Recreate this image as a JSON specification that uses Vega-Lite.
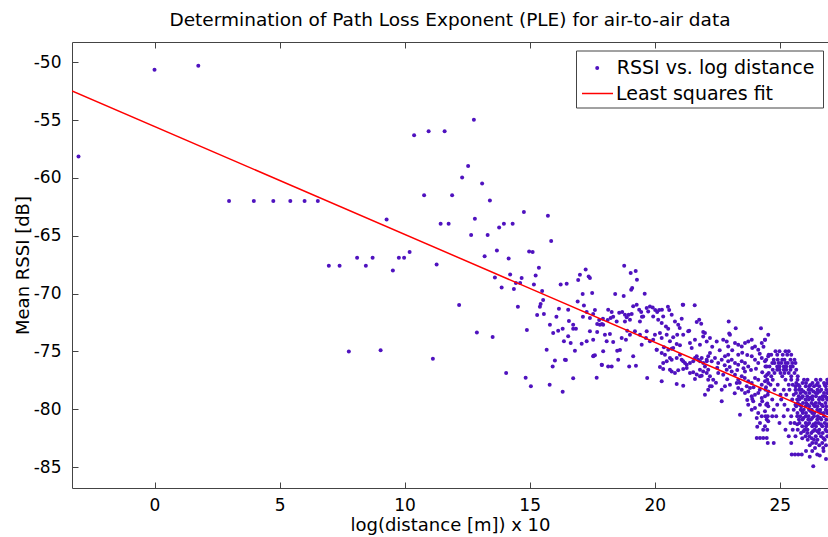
{
"$schema":"https://vega.github.io/schema/vega-lite/v6.json",
"width":756,"height":446,
"autosize":{"type":"none"},
"padding":{"left":72,"top":42,"right":0,"bottom":49},
"background":"white",
"config":{"view":{"stroke":null},"font":"DejaVu Sans"},
"title":{"text":"Determination of Path Loss Exponent (PLE) for air-to-air data","fontSize":18.5,"font":"DejaVu Sans","fontWeight":"normal","color":"#000","anchor":"middle","baseline":"alphabetic","offset":-3},
"datasets":{
"fit":[{"x":-3.3,"y":-52.48},{"x":26.93,"y":-80.66}],
"pts":[
{"x":-3.04,"y":-58.15},{"x":0.0,"y":-50.64},{"x":1.75,"y":-50.3},
{"x":2.98,"y":-62},{"x":3.97,"y":-62},{"x":4.75,"y":-62},{"x":5.43,"y":-62},{"x":6.0,"y":-62},{"x":6.53,"y":-62},
{"x":9.28,"y":-63.6},{"x":10.2,"y":-66.4},{"x":8.1,"y":-66.9},{"x":8.72,"y":-66.9},{"x":9.77,"y":-66.9},{"x":9.98,"y":-66.9},
{"x":10.38,"y":-56.3},{"x":6.97,"y":-67.6},{"x":7.4,"y":-67.6},{"x":8.45,"y":-67.6},{"x":9.53,"y":-68.0},
{"x":7.77,"y":-75.0},{"x":9.04,"y":-74.9},
{"x":10.96,"y":-55.96},{"x":11.6,"y":-55.96},{"x":12.77,"y":-54.96},{"x":12.54,"y":-58.96},{"x":12.3,"y":-59.96},{"x":13.1,"y":-60.48},{"x":10.78,"y":-61.49},{"x":11.9,"y":-61.49},{"x":13.41,"y":-61.95},{"x":14.77,"y":-62.95},{"x":15.73,"y":-63.27},{"x":12.81,"y":-63.53},{"x":11.44,"y":-63.96},{"x":11.76,"y":-63.96},{"x":13.78,"y":-64.28},{"x":13.97,"y":-63.96},{"x":14.32,"y":-63.96},
{"x":12.66,"y":-64.94},{"x":13.32,"y":-64.94},{"x":11.28,"y":-67.48},{"x":13.69,"y":-66.27},{"x":13.2,"y":-66.76},{"x":14.16,"y":-66.96},{"x":14.98,"y":-66.35},{"x":15.12,"y":-66.41},{"x":15.37,"y":-67.76},{"x":15.24,"y":-68.43},{"x":13.61,"y":-68.6},{"x":14.22,"y":-68.34},{"x":14.68,"y":-68.65},{"x":14.45,"y":-69.08},{"x":14.62,"y":-69.08},{"x":13.88,"y":-69.46},{"x":14.37,"y":-69.6},{"x":15.17,"y":-69.2},{"x":15.5,"y":-69.78},{"x":15.54,"y":-70.55},{"x":12.18,"y":-70.98},{"x":14.53,"y":-71.13},{"x":15.41,"y":-71.13},{"x":15.3,"y":-71.85},{"x":15.57,"y":-71.76},{"x":12.89,"y":-73.35},{"x":13.52,"y":-73.75},{"x":14.89,"y":-73.14},{"x":11.13,"y":-75.62},
{"x":14.06,"y":-76.86},{"x":14.84,"y":-77.26},{"x":15.05,"y":-78.01},{"x":15.8,"y":-77.87},{"x":16.32,"y":-78.47},{"x":15.92,"y":-76.29},{"x":16.01,"y":-75.79},{"x":16.45,"y":-75.73},{"x":16.74,"y":-77.32},{"x":17.56,"y":-75.36},{"x":17.89,"y":-76.17},{"x":17.68,"y":-77.26},
{"x":15.86,"y":-65.46},{"x":17.24,"y":-67.91},{"x":17.01,"y":-68.37},{"x":17.36,"y":-68.51},{"x":17.41,"y":-68.65},{"x":18.78,"y":-67.59},{"x":19.04,"y":-68.22},{"x":19.24,"y":-68.05},{"x":19.29,"y":-68.8},{"x":16.24,"y":-69.2},{"x":16.48,"y":-69.15},{"x":16.94,"y":-68.82},{"x":19.1,"y":-69.52},{"x":19.06,"y":-69.66},{"x":17.12,"y":-70.03},{"x":17.5,"y":-69.95},{"x":18.42,"y":-70.03},{"x":18.76,"y":-70.21},{"x":19.6,"y":-70.01},{"x":16.92,"y":-70.67},{"x":17.17,"y":-71.02},{"x":15.44,"y":-70.9},{"x":16.17,"y":-71.3},{"x":17.61,"y":-71.42},{"x":17.13,"y":-72.0},{"x":16.07,"y":-72.0},{"x":16.57,"y":-72.37},{"x":17.78,"y":-72.28},{"x":17.93,"y":-72.17},{"x":18.12,"y":-72.28},{"x":18.24,"y":-72.11},{"x":18.34,"y":-72.0},{"x":18.58,"y":-71.65},{"x":18.7,"y":-71.59},{"x":18.81,"y":-71.82},{"x":18.88,"y":-72.05},{"x":18.96,"y":-71.82},{"x":19.01,"y":-72.25},{"x":19.14,"y":-71.1},{"x":19.28,"y":-70.96},{"x":19.38,"y":-71.39},{"x":19.46,"y":-71.59},{"x":19.49,"y":-72.0},{"x":19.68,"y":-71.24},{"x":19.74,"y":-71.54},{"x":19.81,"y":-71.11},{"x":19.92,"y":-71.19},{"x":20.02,"y":-71.42},{"x":20.1,"y":-71.59},{"x":20.18,"y":-71.42},{"x":20.29,"y":-71.39},{"x":20.53,"y":-71.13},{"x":20.58,"y":-71.42},{"x":21.12,"y":-70.96},{"x":17.7,"y":-72.63},{"x":17.81,"y":-72.69},{"x":17.89,"y":-72.63},
{"x":15.94,"y":-73.4},{"x":16.14,"y":-73.2},{"x":16.32,"y":-73.03},{"x":16.37,"y":-74.12},{"x":16.54,"y":-73.69},{"x":16.64,"y":-74.27},{"x":16.74,"y":-73.03},{"x":16.85,"y":-73.03},{"x":16.81,"y":-74.93},{"x":17.08,"y":-74.33},{"x":17.28,"y":-74.12},{"x":17.41,"y":-73.26},{"x":17.54,"y":-73.98},{"x":17.61,"y":-75.33},{"x":17.7,"y":-73.32},{"x":17.94,"y":-74.99},{"x":18.01,"y":-73.55},{"x":18.08,"y":-74.12},{"x":18.21,"y":-73.49},{"x":18.34,"y":-74.18},{"x":18.5,"y":-74.93},{"x":18.61,"y":-74.87},{"x":18.68,"y":-73.84},{"x":18.85,"y":-73.98},{"x":18.9,"y":-73.2},{"x":19.01,"y":-73.55},{"x":19.14,"y":-75.42},{"x":19.21,"y":-73.26},{"x":19.41,"y":-73.55},{"x":19.48,"y":-74.41},{"x":19.65,"y":-73.84},{"x":19.68,"y":-73.26},{"x":19.81,"y":-74.12},{"x":19.94,"y":-73.98},{"x":20.01,"y":-73.55},{"x":20.08,"y":-74.84},{"x":20.21,"y":-73.4},{"x":20.28,"y":-73.84},{"x":20.37,"y":-74.64},{"x":20.48,"y":-73.55},{"x":20.54,"y":-73.03},{"x":20.61,"y":-74.12},{"x":20.68,"y":-74.76},{"x":20.74,"y":-73.78},{"x":20.88,"y":-74.36},{"x":20.9,"y":-73.55},{"x":21.01,"y":-74.47},{"x":21.14,"y":-73.55},{"x":21.01,"y":-75.28},{"x":15.68,"y":-74.84},{"x":16.41,"y":-75.71},{"x":17.54,"y":-75.42},{"x":18.54,"y":-75.71},
{"x":17.28,"y":-71.59},{"x":17.41,"y":-72.11},{"x":17.54,"y":-71.76},{"x":18.14,"y":-71.39},{"x":18.28,"y":-71.59},{"x":18.48,"y":-72.4},{"x":18.81,"y":-72.4},{"x":19.08,"y":-71.76},{"x":19.54,"y":-71.97},{"x":19.94,"y":-71.97},{"x":20.14,"y":-72.25},{"x":20.34,"y":-71.97},{"x":20.68,"y":-71.82},{"x":20.81,"y":-72.4},{"x":20.94,"y":-72.69},{"x":21.08,"y":-72.17},{"x":19.41,"y":-72.4},{"x":20.28,"y":-72.54},{"x":20.45,"y":-72.83},{"x":16.54,"y":-71.39},{"x":16.74,"y":-72.69},{"x":15.81,"y":-72.69},{"x":17.94,"y":-72.69},
{"x":21.41,"y":-76.0},{"x":21.54,"y":-75.85},{"x":21.61,"y":-75.57},{"x":21.68,"y":-75.42},{"x":21.74,"y":-75.71},{"x":21.81,"y":-75.85},{"x":21.88,"y":-75.57},{"x":21.94,"y":-76.0},{"x":22.01,"y":-76.29},{"x":22.08,"y":-75.71},{"x":22.14,"y":-75.42},{"x":22.21,"y":-75.13},
{"x":21.34,"y":-73.26},{"x":21.41,"y":-74.27},{"x":21.61,"y":-73.98},{"x":21.81,"y":-74.42},{"x":21.94,"y":-73.7},{"x":22.08,"y":-74.13},{"x":21.48,"y":-74.7},
{"x":20.34,"y":-76.0},{"x":20.48,"y":-75.85},{"x":20.61,"y":-75.57},{"x":20.68,"y":-75.71},{"x":20.88,"y":-75.57},{"x":21.08,"y":-75.71},{"x":21.14,"y":-75.85},{"x":21.21,"y":-76.0},{"x":21.28,"y":-76.14},
{"x":17.88,"y":-76.14},{"x":18.14,"y":-76.29},{"x":18.28,"y":-76.29},{"x":18.98,"y":-76.29},{"x":19.25,"y":-76.23},{"x":20.21,"y":-76.34},{"x":20.34,"y":-76.52},{"x":20.61,"y":-76.57},{"x":20.68,"y":-76.72},{"x":20.81,"y":-76.86},{"x":20.94,"y":-76.63},{"x":21.14,"y":-76.52},{"x":21.28,"y":-76.43},{"x":21.41,"y":-76.86},{"x":21.54,"y":-76.8},{"x":21.68,"y":-77.0},{"x":21.81,"y":-76.57},{"x":21.88,"y":-77.09},{"x":21.94,"y":-76.72},{"x":22.08,"y":-76.86},{"x":22.14,"y":-77.44},
{"x":19.7,"y":-77.29},{"x":20.28,"y":-77.58},{"x":20.88,"y":-77.81},{"x":21.14,"y":-77.96},{"x":21.61,"y":-77.38},{"x":21.81,"y":-77.15},{"x":22.01,"y":-78.73},{"x":22.14,"y":-78.3},{"x":22.21,"y":-78.01},
{"x":20.28,"y":-75.13},{"x":20.41,"y":-75.28},{"x":20.54,"y":-74.85},{"x":20.08,"y":-74.85},{"x":20.74,"y":-74.7},
{"x":21.14,"y":-70.96},{"x":21.6,"y":-71.0},{"x":21.68,"y":-72.45},{"x":21.78,"y":-72.25},{"x":21.86,"y":-72.6},{"x":22.96,"y":-72.4},{"x":23.24,"y":-73.0},{"x":24.25,"y":-73.0},{"x":21.0,"y":-72.97},{"x":21.38,"y":-73.2},{"x":21.94,"y":-73.32},{"x":22.98,"y":-73.44},
{"x":22.01,"y":-73.41},{"x":22.21,"y":-73.84},{"x":22.48,"y":-74.13},{"x":22.74,"y":-73.98},{"x":22.88,"y":-74.13},{"x":22.94,"y":-74.56},{"x":23.01,"y":-73.55},{"x":23.21,"y":-74.27},{"x":23.34,"y":-74.42},{"x":23.48,"y":-74.56},{"x":23.61,"y":-74.27},{"x":23.74,"y":-74.13},{"x":23.88,"y":-73.98},{"x":24.01,"y":-74.56},{"x":24.14,"y":-74.85},{"x":24.28,"y":-74.27},{"x":24.41,"y":-73.98},{"x":24.54,"y":-73.55},{"x":22.94,"y":-75.28},{"x":23.34,"y":-75.28},
{"x":22.08,"y":-75.85},{"x":22.28,"y":-75.85},{"x":22.41,"y":-75.57},{"x":22.54,"y":-76.0},{"x":22.68,"y":-75.71},{"x":22.81,"y":-75.42},{"x":22.94,"y":-75.85},{"x":23.08,"y":-75.71},{"x":23.21,"y":-76.0},{"x":23.34,"y":-76.14},{"x":23.48,"y":-75.85},{"x":23.61,"y":-76.0},{"x":23.74,"y":-76.29},{"x":23.88,"y":-75.42},{"x":24.01,"y":-75.71},{"x":24.14,"y":-76.0},{"x":24.28,"y":-75.57},{"x":24.41,"y":-75.85},{"x":24.54,"y":-75.42},{"x":24.48,"y":-76.29},{"x":22.14,"y":-76.57},
{"x":22.21,"y":-77.15},{"x":22.34,"y":-77.44},{"x":22.54,"y":-76.86},{"x":22.74,"y":-77.01},{"x":22.88,"y":-76.57},{"x":23.08,"y":-76.72},{"x":23.21,"y":-77.01},{"x":23.34,"y":-77.44},{"x":23.48,"y":-77.15},{"x":23.61,"y":-76.72},{"x":23.74,"y":-77.58},{"x":23.88,"y":-77.73},{"x":24.01,"y":-77.29},{"x":24.14,"y":-77.44},{"x":24.28,"y":-77.87},{"x":24.41,"y":-77.58},{"x":24.54,"y":-77.73},{"x":22.28,"y":-78.01},{"x":22.68,"y":-78.3},{"x":23.28,"y":-77.73},
{"x":22.81,"y":-78.01},{"x":23.01,"y":-77.87},{"x":23.34,"y":-78.16},{"x":23.48,"y":-78.3},{"x":23.61,"y":-78.59},{"x":23.74,"y":-78.45},{"x":23.88,"y":-78.88},{"x":24.01,"y":-78.73},{"x":24.14,"y":-78.59},{"x":24.28,"y":-79.02},{"x":24.41,"y":-78.88},{"x":24.54,"y":-78.45},{"x":23.68,"y":-78.01},{"x":23.81,"y":-78.16},
{"x":22.68,"y":-79.31},{"x":23.41,"y":-80.46},{"x":23.74,"y":-79.6},{"x":23.88,"y":-80.03},{"x":24.01,"y":-79.88},{"x":24.08,"y":-80.75},{"x":24.14,"y":-80.32},{"x":24.28,"y":-80.6},{"x":24.41,"y":-80.17},{"x":24.48,"y":-80.89},{"x":24.54,"y":-79.74},{"x":23.94,"y":-79.31},{"x":24.21,"y":-79.6},
{"x":24.21,"y":-81.18},{"x":24.34,"y":-81.76},{"x":24.41,"y":-81.47},{"x":24.54,"y":-81.04},{"x":24.08,"y":-82.48},{"x":24.21,"y":-82.48},{"x":24.34,"y":-82.48},{"x":24.48,"y":-82.48},
{"x":22.3,"y":-74.6},{"x":22.6,"y":-74.9},{"x":23.1,"y":-74.9},{"x":23.5,"y":-75.1},{"x":23.7,"y":-75.3},{"x":23.9,"y":-74.7},{"x":24.2,"y":-75.2},{"x":24.35,"y":-74.6},{"x":22.5,"y":-76.4},{"x":22.8,"y":-76.2},{"x":23.0,"y":-76.35},{"x":23.3,"y":-76.6},{"x":23.55,"y":-76.45},{"x":23.85,"y":-76.6},{"x":24.05,"y":-76.5},{"x":24.3,"y":-76.8},{"x":24.5,"y":-77.0},{"x":23.4,"y":-77.7},{"x":23.6,"y":-77.3},{"x":23.95,"y":-78.1},{"x":24.2,"y":-78.3},{"x":24.45,"y":-78.1},{"x":23.2,"y":-78.6},{"x":23.9,"y":-79.1},{"x":24.3,"y":-79.3},{"x":24.5,"y":-79.5},{"x":24.1,"y":-81.5},{"x":23.7,"y":-79.2},{"x":22.9,"y":-77.4},{"x":22.45,"y":-77.7},
{"x":24.41,"y":-73.98},
{"x":24.83,"y":-74.99},{"x":24.99,"y":-74.99},{"x":25.23,"y":-74.99},{"x":25.36,"y":-74.99},
{"x":24.56,"y":-75.28},{"x":24.66,"y":-75.28},{"x":24.9,"y":-75.28},{"x":25.12,"y":-75.28},{"x":25.3,"y":-75.28},{"x":25.46,"y":-75.28},
{"x":24.46,"y":-75.71},{"x":24.76,"y":-75.71},{"x":24.92,"y":-75.71},{"x":25.1,"y":-75.71},{"x":25.19,"y":-75.71},{"x":25.43,"y":-75.71},{"x":25.59,"y":-75.71},
{"x":24.7,"y":-76.0},{"x":24.79,"y":-76.0},{"x":24.96,"y":-76.0},{"x":25.06,"y":-76.0},{"x":25.23,"y":-76.0},{"x":25.32,"y":-76.0},{"x":25.5,"y":-76.0},{"x":25.63,"y":-76.0},
{"x":24.43,"y":-76.29},{"x":24.59,"y":-76.29},{"x":24.9,"y":-76.29},{"x":24.99,"y":-76.29},{"x":25.16,"y":-76.29},{"x":25.26,"y":-76.29},{"x":25.43,"y":-76.29},{"x":25.52,"y":-76.29},
{"x":24.72,"y":-76.57},{"x":24.9,"y":-76.57},{"x":24.99,"y":-76.57},{"x":25.16,"y":-76.57},{"x":25.26,"y":-76.57},{"x":25.43,"y":-76.57},{"x":25.66,"y":-76.57},
{"x":24.56,"y":-76.86},{"x":24.79,"y":-76.86},{"x":25.03,"y":-76.86},{"x":25.19,"y":-76.86},{"x":25.36,"y":-76.86},{"x":25.59,"y":-76.86},
{"x":24.43,"y":-77.15},{"x":24.66,"y":-77.15},{"x":25.1,"y":-77.15},{"x":25.46,"y":-77.15},{"x":25.72,"y":-77.15},
{"x":25.71,"y":-77.44},{"x":25.97,"y":-77.44},{"x":26.11,"y":-77.44},{"x":26.45,"y":-77.44},{"x":26.63,"y":-77.44},{"x":26.9,"y":-77.44},
{"x":25.66,"y":-77.73},{"x":25.91,"y":-77.73},{"x":26.05,"y":-77.73},{"x":26.31,"y":-77.73},{"x":26.52,"y":-77.73},{"x":26.77,"y":-77.73},{"x":26.9,"y":-77.73},
{"x":25.63,"y":-78.01},{"x":25.79,"y":-78.01},{"x":26.04,"y":-78.01},{"x":26.18,"y":-78.01},{"x":26.37,"y":-78.01},{"x":26.58,"y":-78.01},{"x":26.84,"y":-78.01},
{"x":25.77,"y":-78.3},{"x":25.87,"y":-78.3},{"x":26.15,"y":-78.3},{"x":26.26,"y":-78.3},{"x":26.51,"y":-78.3},{"x":26.66,"y":-78.3},{"x":26.86,"y":-78.3},
{"x":25.65,"y":-78.59},{"x":25.83,"y":-78.59},{"x":26.04,"y":-78.59},{"x":26.19,"y":-78.59},{"x":26.44,"y":-78.59},{"x":26.51,"y":-78.59},{"x":26.77,"y":-78.59},{"x":26.9,"y":-78.59},
{"x":25.76,"y":-78.88},{"x":25.92,"y":-78.88},{"x":26.1,"y":-78.88},{"x":26.31,"y":-78.88},{"x":26.45,"y":-78.88},{"x":26.71,"y":-78.88},{"x":26.82,"y":-78.88},
{"x":25.7,"y":-79.16},{"x":25.78,"y":-79.16},{"x":26.03,"y":-79.16},{"x":26.16,"y":-79.16},{"x":26.31,"y":-79.16},{"x":26.57,"y":-79.16},{"x":26.72,"y":-79.16},{"x":26.9,"y":-79.16},
{"x":25.72,"y":-79.45},{"x":25.93,"y":-79.45},{"x":26.06,"y":-79.45},{"x":26.27,"y":-79.45},{"x":26.44,"y":-79.45},{"x":26.58,"y":-79.45},{"x":26.83,"y":-79.45},
{"x":25.66,"y":-79.74},{"x":25.86,"y":-79.74},{"x":26.04,"y":-79.74},{"x":26.18,"y":-79.74},{"x":26.4,"y":-79.74},{"x":26.51,"y":-79.74},{"x":26.72,"y":-79.74},{"x":26.86,"y":-79.74},
{"x":25.84,"y":-80.03},{"x":25.96,"y":-80.03},{"x":26.17,"y":-80.03},{"x":26.28,"y":-80.03},{"x":26.5,"y":-80.03},{"x":26.62,"y":-80.03},{"x":26.84,"y":-80.03},
{"x":25.71,"y":-80.32},{"x":25.92,"y":-80.32},{"x":26.05,"y":-80.32},{"x":26.3,"y":-80.32},{"x":26.38,"y":-80.32},{"x":26.64,"y":-80.32},{"x":26.76,"y":-80.32},{"x":26.9,"y":-80.32},
{"x":25.7,"y":-80.6},{"x":25.82,"y":-80.6},{"x":26.04,"y":-80.6},{"x":26.15,"y":-80.6},{"x":26.37,"y":-80.6},{"x":26.52,"y":-80.6},{"x":26.77,"y":-80.6},
{"x":25.77,"y":-80.89},{"x":25.91,"y":-80.89},{"x":26.14,"y":-80.89},{"x":26.25,"y":-80.89},{"x":26.5,"y":-80.89},{"x":26.66,"y":-80.89},{"x":26.86,"y":-80.89},
{"x":25.79,"y":-81.18},{"x":26.04,"y":-81.18},{"x":26.18,"y":-81.18},{"x":26.44,"y":-81.18},{"x":26.55,"y":-81.18},{"x":26.8,"y":-81.18},
{"x":25.9,"y":-81.47},{"x":26.05,"y":-81.47},{"x":26.3,"y":-81.47},{"x":26.45,"y":-81.47},{"x":26.7,"y":-81.47},{"x":26.86,"y":-81.47},
{"x":25.72,"y":-81.76},{"x":26.0,"y":-81.76},{"x":26.11,"y":-81.76},{"x":26.4,"y":-81.76},{"x":26.58,"y":-81.76},{"x":26.83,"y":-81.76},
{"x":25.85,"y":-82.04},{"x":26.1,"y":-82.04},{"x":26.26,"y":-82.04},{"x":26.57,"y":-82.04},{"x":26.72,"y":-82.04},
{"x":26.03,"y":-82.33},{"x":26.18,"y":-82.33},{"x":26.44,"y":-82.33},{"x":26.65,"y":-82.33},{"x":26.9,"y":-82.33},
{"x":26.12,"y":-82.62},{"x":26.37,"y":-82.62},{"x":26.51,"y":-82.62},{"x":26.8,"y":-82.62},
{"x":26.3,"y":-82.91},{"x":26.45,"y":-82.91},{"x":26.7,"y":-82.91},
{"x":25.75,"y":-77.9},{"x":26.22,"y":-77.9},{"x":26.47,"y":-77.9},{"x":26.8,"y":-77.9},
{"x":25.95,"y":-78.45},{"x":26.35,"y":-78.45},{"x":26.6,"y":-78.45},
{"x":25.88,"y":-79.0},{"x":26.22,"y":-79.0},{"x":26.6,"y":-79.0},{"x":26.88,"y":-79.0},
{"x":25.8,"y":-79.6},{"x":26.12,"y":-79.6},{"x":26.35,"y":-79.6},{"x":26.68,"y":-79.6},
{"x":25.9,"y":-80.15},{"x":26.23,"y":-80.15},{"x":26.56,"y":-80.15},{"x":26.9,"y":-80.15},
{"x":25.95,"y":-80.75},{"x":26.3,"y":-80.75},{"x":26.62,"y":-80.75},
{"x":25.7,"y":-81.3},{"x":26.12,"y":-81.3},{"x":26.35,"y":-81.3},{"x":26.65,"y":-81.3},{"x":26.9,"y":-81.3},
{"x":25.95,"y":-81.9},{"x":26.33,"y":-81.9},{"x":26.5,"y":-81.9},{"x":26.88,"y":-81.9},
{"x":25.9,"y":-82.5},{"x":26.28,"y":-82.5},{"x":26.75,"y":-82.5},
{"x":26.2,"y":-83.1},{"x":26.58,"y":-83.1},{"x":26.85,"y":-83.1},
{"x":26.05,"y":-83.6},{"x":26.3,"y":-83.6},
{"x":26.41,"y":-83.34},{"x":26.74,"y":-83.34},
{"x":25.48,"y":-83.91},{"x":25.61,"y":-83.91},{"x":25.74,"y":-83.91},{"x":25.88,"y":-83.91},
{"x":26.34,"y":-84.92},
{"x":26.6,"y":-84.0},{"x":26.85,"y":-84.3},{"x":26.2,"y":-84.1},{"x":26.75,"y":-83.6},{"x":26.5,"y":-83.9},
{"x":24.5,"y":-77.44},{"x":24.72,"y":-77.44},{"x":25.23,"y":-77.44},{"x":25.46,"y":-77.44},
{"x":24.63,"y":-77.87},{"x":24.92,"y":-77.87},{"x":25.36,"y":-77.87},{"x":25.52,"y":-77.87},
{"x":24.43,"y":-78.3},{"x":24.79,"y":-78.3},{"x":25.16,"y":-78.3},{"x":25.39,"y":-78.3},{"x":25.63,"y":-78.3},
{"x":24.52,"y":-78.73},{"x":25.03,"y":-78.73},{"x":25.26,"y":-78.73},{"x":25.56,"y":-78.73},
{"x":24.7,"y":-79.16},{"x":25.06,"y":-79.16},{"x":25.5,"y":-79.16},
{"x":24.46,"y":-79.6},{"x":24.9,"y":-79.6},{"x":25.19,"y":-79.6},{"x":25.63,"y":-79.6},
{"x":24.76,"y":-80.03},{"x":25.32,"y":-80.03},{"x":25.56,"y":-80.03},
{"x":24.43,"y":-80.6},{"x":24.52,"y":-80.6},{"x":24.7,"y":-80.6},{"x":24.86,"y":-80.6},{"x":25.16,"y":-80.6},{"x":25.46,"y":-80.6},
{"x":24.99,"y":-81.18},{"x":25.43,"y":-81.18},{"x":25.59,"y":-81.18},
{"x":24.5,"y":-81.76},{"x":25.23,"y":-81.76},{"x":25.52,"y":-81.76},
{"x":25.36,"y":-82.33},{"x":25.63,"y":-82.33},
{"x":24.52,"y":-82.91},{"x":24.76,"y":-82.91},{"x":25.46,"y":-82.91}
]},
"layer":[
{"data":{"name":"pts"},
 "mark":{"type":"point","filled":true,"shape":"circle","size":16,"opacity":1,"clip":true},
 "encoding":{
  "x":{"field":"x","type":"quantitative","scale":{"domain":[-3.3,26.93],"nice":false,"zero":false},
   "axis":{"orient":"bottom","values":[0,5,10,15,20,25],"title":"log(distance [m]) x 10","grid":false,"domainColor":"#444","tickColor":"#444","tickSize":-6,"labelPadding":15,"labelFontSize":17,"labelFont":"DejaVu Sans","labelColor":"#000","titleFontSize":18,"titleFont":"DejaVu Sans","titleFontWeight":"normal","titleColor":"#000","titleBaseline":"alphabetic","titleY":42}},
  "y":{"field":"y","type":"quantitative","scale":{"domain":[-86.8,-48.25],"nice":false,"zero":false},
   "axis":{"orient":"left","values":[-85,-80,-75,-70,-65,-60,-55,-50],"labelExpr":"toString(datum.value)","title":"Mean RSSI [dB]","grid":false,"domainColor":"#444","tickColor":"#444","tickSize":-6,"labelPadding":17,"labelFontSize":17,"labelFont":"DejaVu Sans","labelColor":"#000","titleFontSize":18,"titleFont":"DejaVu Sans","titleFontWeight":"normal","titleColor":"#000","titleBaseline":"alphabetic","titleX":-44,"titleY":223,"titleAngle":-90}},
  "color":{"datum":"RSSI vs. log distance","type":"nominal",
   "scale":{"domain":["RSSI vs. log distance"],"range":["#4f12bf"]},
   "legend":{"orient":"none","legendX":504,"legendY":8.5,"title":"\u00a0","titleOrient":"bottom","titleFontSize":19,"titlePadding":2,"labelFontSize":19,"labelFont":"DejaVu Sans","labelColor":"#000","labelLimit":0,"strokeColor":"#444","padding":8,"symbolSize":16,"symbolOffset":3.7,"labelOffset":10,"symbolType":"circle","symbolStrokeWidth":0}}
 }},
{"data":{"name":"fit"},
 "mark":{"type":"line","strokeWidth":1.5,"clip":true},
 "encoding":{
  "x":{"field":"x","type":"quantitative","axis":{"orient":"top","values":[0,5,10,15,20,25],"labels":false,"title":null,"grid":false,"domainColor":"#444","tickColor":"#444","tickSize":-6}},
  "y":{"field":"y","type":"quantitative","axis":null},
  "color":{"datum":"Least squares fit","type":"nominal",
   "scale":{"domain":["Least squares fit"],"range":["#ff0000"]},
   "legend":{"orient":"none","legendX":504,"legendY":30,"title":null,"labelFontSize":19,"labelFont":"DejaVu Sans","labelColor":"#000","labelLimit":0,"padding":5,"symbolSize":961,"symbolType":"stroke","symbolStrokeWidth":1.5,"labelOffset":2}}
 }}
],
"resolve":{"axis":{"x":"independent","y":"independent"},"scale":{"color":"independent"}}
}
